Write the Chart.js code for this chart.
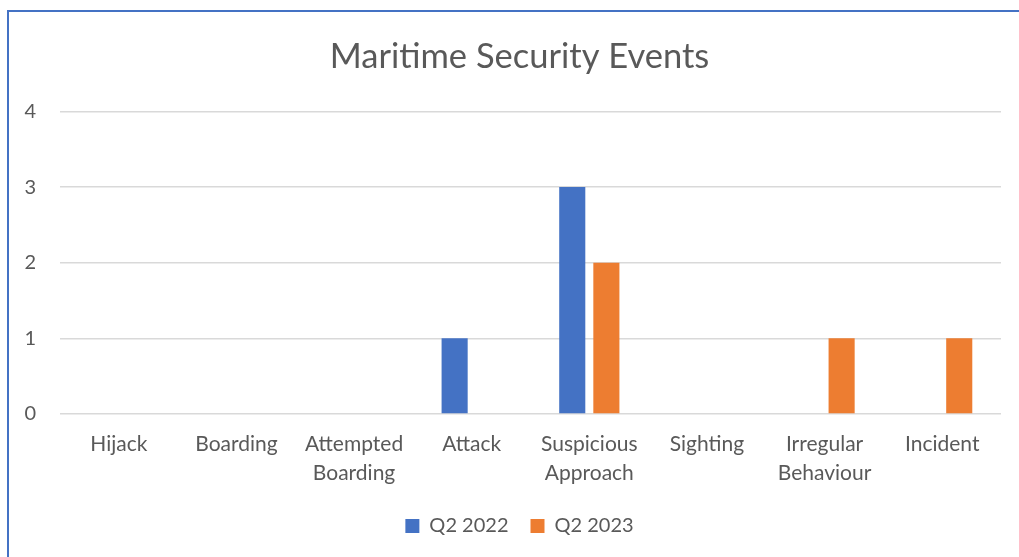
<!DOCTYPE html>
<html>
<head>
<meta charset="utf-8">
<script src="https://cdn.jsdelivr.net/npm/chart.js@4/dist/chart.umd.min.js"></script>
<style>
    html, body { margin: 0; padding: 0; background: #fff; overflow: hidden; }
    .frame {
        position: absolute;
        left: 7px;
        top: 10px;
        width: 1040px;
        height: 570px;
        border: 2px solid #4472c4;
        box-sizing: border-box;
    }
    .wrap {
        position: absolute;
        left: 9px;
        top: 12px;
        width: 1021px;
        height: 545px;
    }
</style>
</head>
<body>
<div class="frame"></div>
<div class="wrap"><canvas id="securityChart"></canvas></div>
<script>
const categories = [
    'Hijack',
    'Boarding',
    ['Attempted', 'Boarding'],
    'Attack',
    ['Suspicious', 'Approach'],
    'Sighting',
    ['Irregular', 'Behaviour'],
    'Incident',
];
const q2022 = [0, 0, 0, 1, 3, 0, 0, 0];
const q2023 = [0, 0, 0, 0, 2, 0, 1, 1];
const yTicks = [0, 1, 2, 3, 4];

const blue = '#4472c4';
const orange = '#ed7d31';
const grey = '#595959';
const fontFamily = 'Lato, "Open Sans", sans-serif';

new Chart(document.getElementById('securityChart'), {
    type: 'bar',
    data: {
        labels: categories,
        datasets: [
            {
                label: 'Q2 2022',
                data: q2022,
                backgroundColor: blue,
                categoryPercentage: 0.58,
                barPercentage: 0.765,
            },
            {
                label: 'Q2 2023',
                data: q2023,
                backgroundColor: orange,
                categoryPercentage: 0.58,
                barPercentage: 0.765,
            },
        ],
    },
    options: {
        responsive: true,
        maintainAspectRatio: false,
        animation: false,
        layout: { padding: { left: 0, right: 0, top: 0, bottom: 11 } },
        plugins: {
            title: {
                display: true,
                text: 'Maritime Security Events',
                color: grey,
                font: { family: fontFamily, size: 34.5, weight: 'normal' },
                padding: { top: 24, bottom: 34 },
            },
            legend: {
                position: 'bottom',
                labels: {
                    color: grey,
                    font: { family: fontFamily, size: 20 },
                    boxWidth: 14,
                    boxHeight: 14,
                    padding: 22,
                },
            },
            tooltip: { enabled: false },
        },
        scales: {
            x: {
                grid: { display: false },
                border: { display: false },
                afterFit: scale => {
                    scale.height = 80;
                },
                ticks: {
                    color: grey,
                    font: { family: fontFamily, size: 21, lineHeight: 1.38 },
                    maxRotation: 0,
                    autoSkip: false,
                    padding: 8,
                },
            },
            y: {
                min: 0,
                max: 4,
                afterBuildTicks: scale => {
                    scale.ticks = yTicks.map(v => ({ value: v }));
                },
                afterFit: scale => {
                    scale.width = 51;
                },
                grid: { color: '#d9d9d9', lineWidth: 1.5, drawTicks: false },
                border: { display: false },
                ticks: {
                    color: grey,
                    font: { family: fontFamily, size: 20 },
                    padding: 24,
                },
            },
            // empty axis that only keeps the right margin free
            spacer: {
                type: 'linear',
                position: 'right',
                display: true,
                afterFit: scale => {
                    scale.width = 29;
                },
                grid: { display: false },
                border: { display: false },
                ticks: { display: false },
            },
        },
    },
});
</script>
</body>
</html>
